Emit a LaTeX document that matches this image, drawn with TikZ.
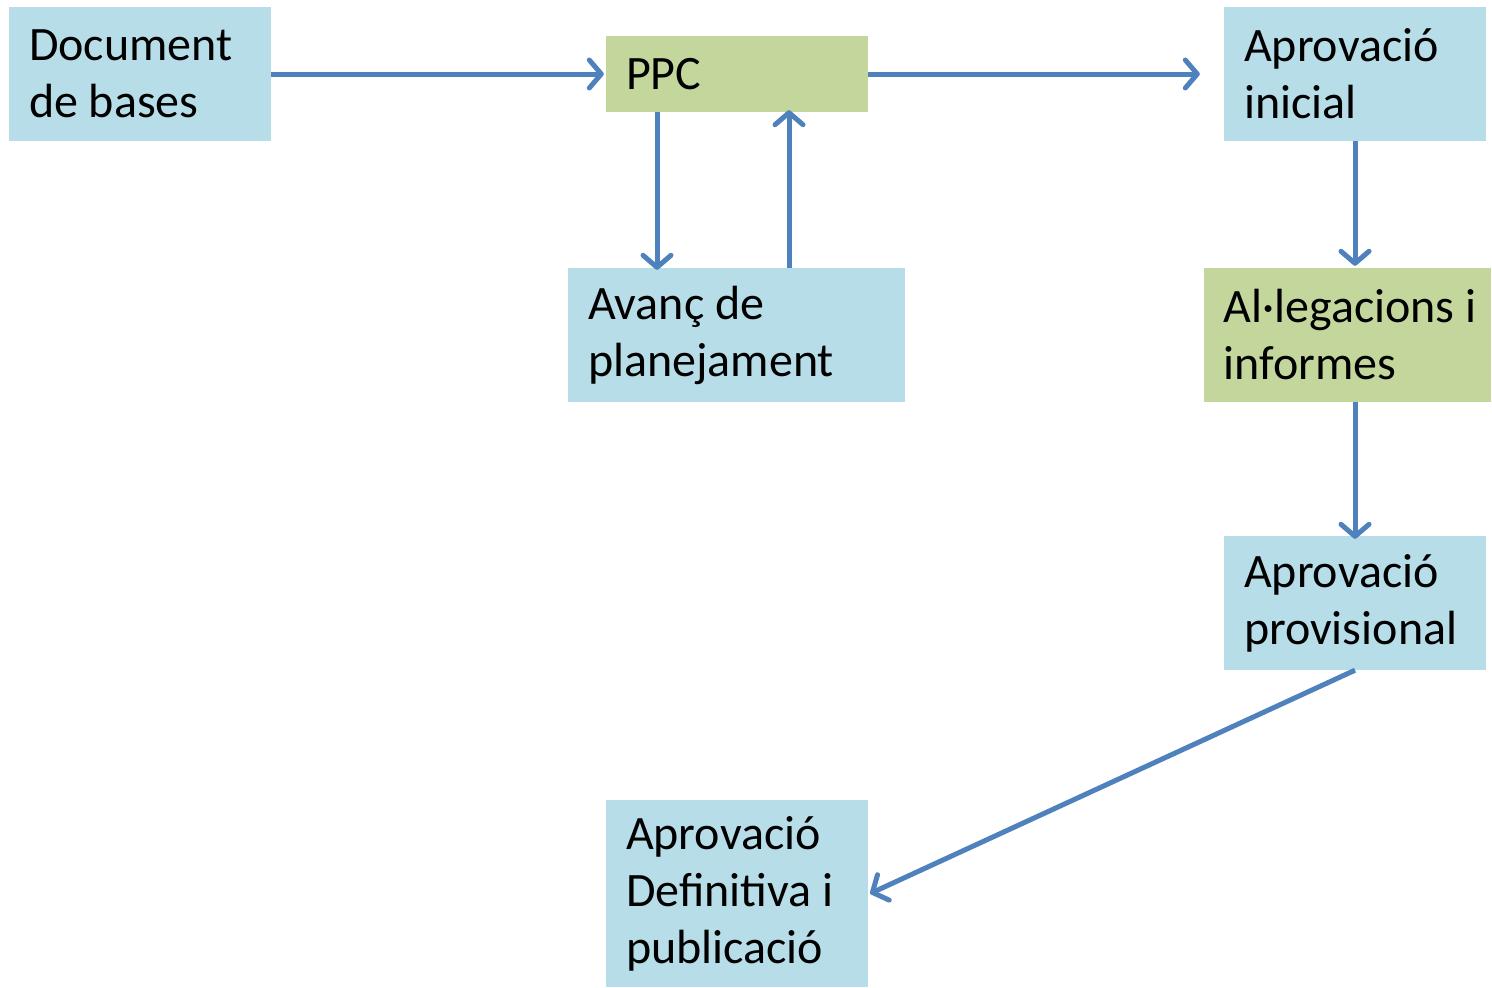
\documentclass[tikz,border=0pt]{standalone}
\usepackage{fontspec}
\setmainfont{Carlito}
\usetikzlibrary{arrows.meta,calc}
\definecolor{boxblue}{HTML}{B7DDE8}
\definecolor{boxgreen}{HTML}{C3D69B}
\definecolor{arrowblue}{HTML}{4F81BD}
\tikzset{
  stepbox/.style={fill=boxblue, draw=none, inner xsep=20pt, inner ysep=0pt,
    align=flush left, font=\fontsize{48}{57}\selectfont, text=black},
  greenbox/.style={stepbox, fill=boxgreen},
  flow/.style={draw=arrowblue, line width=5pt,
    -{Straight Barb[length=12pt,width=28pt,round]}}
}
\begin{document}
\begin{tikzpicture}[x=1pt,y=-1pt]
\useasboundingbox (0,0) rectangle (1492,988);
\node[stepbox, text width=222pt, minimum height=134pt] (doc) at (140,74) {Document\\de bases};
\node[greenbox, text width=222pt, minimum height=76pt] (ppc) at (737,74) {PPC};
\node[stepbox, text width=222pt, minimum height=134pt] (ai) at (1355,74) {Aprovació\\inicial};
\node[stepbox, text width=297pt, minimum height=134pt] (avanc) at (736.5,335) {Avanç de\\planejament};
\node[greenbox, text width=248pt, inner xsep=19.5pt, minimum height=134pt] (alleg) at (1347.5,335) {\mbox{Al·legacions i}\\informes};
\node[stepbox, text width=222pt, minimum height=134pt] (prov) at (1355,603) {Aprovació\\provisional};
\node[stepbox, text width=222pt, minimum height=187pt] (def) at (737,893.5) {Aprovació\\Definitiva i\\publicació};
\draw[flow] (doc.east) -- ([xshift=-2pt]ppc.west);
\draw[flow] (ppc.east) -- ([xshift=-24pt]ai.west);
\draw[flow] (ppc.south -| 657,0) -- ([yshift=-2pt]avanc.north -| 657,0);
\draw[flow] (avanc.north -| 789,0) -- ([yshift=2pt]ppc.south -| 789,0);
\draw[flow] (ai.south) -- ([yshift=2pt]alleg.north -| ai.south);
\draw[flow] (alleg.south -| prov.north) -- ([yshift=-3pt]prov.north);
\draw[flow] (prov.south) -- ([xshift=2pt]def.east);
\end{tikzpicture}
\end{document}
